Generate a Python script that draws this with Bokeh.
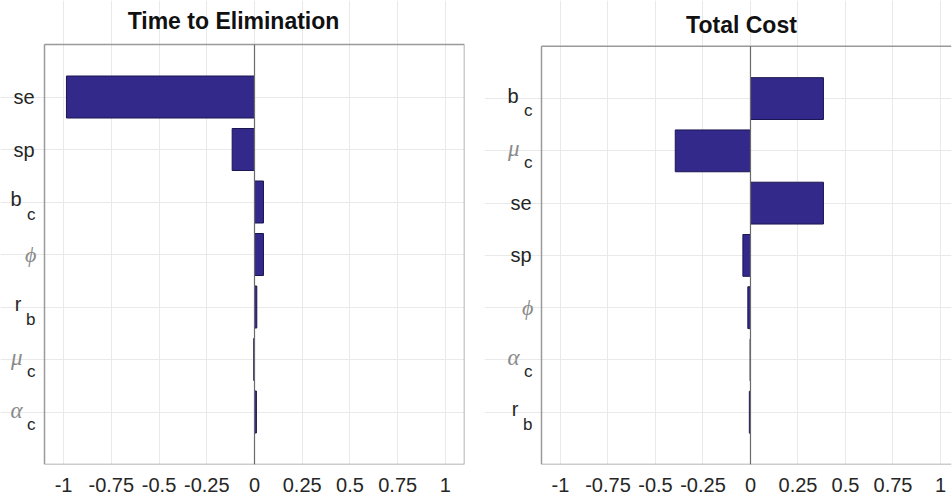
from bokeh.plotting import figure
from bokeh.layouts import row
from bokeh.models import Range1d, FixedTicker, Grid, ColumnDataSource
from bokeh.core.properties import value
from bokeh.embed import file_html
from bokeh.resources import INLINE

# ---------------- data ----------------
left_title = "Time to Elimination"
left_params = ["se", "sp", "b_c", "phi", "r_b", "mu_c", "alpha_c"]
left_values = [-0.985, -0.117, 0.047, 0.047, 0.012, -0.004, 0.010]

right_title = "Total Cost"
right_params = ["b_c", "mu_c", "se", "sp", "phi", "alpha_c", "r_b"]
right_values = [0.384, -0.396, 0.384, -0.040, -0.014, -0.002, -0.006]

x_ticks = [-1, -0.75, -0.5, -0.25, 0, 0.25, 0.5, 0.75, 1]
x_tick_labels = ["-1", "-0.75", "-0.5", "-0.25", "0", "0.25", "0.5", "0.75", "1"]

# main text, subscript, greek?
param_text = {
    "se": ("se", "", False),
    "sp": ("sp", "", False),
    "b_c": ("b", "c", False),
    "phi": ("\u03d5", "", True),
    "r_b": ("r", "b", False),
    "mu_c": ("\u03bc", "c", True),
    "alpha_c": ("\u03b1", "c", True),
}

BAR_FILL = "#33298a"
BAR_LINE = "#1b1650"
TEXT = "#262626"
GREEK = "#8a8a8a"
FRAME = "#9a9a9a"
GRID = "#e9e9e9"
FONT = "Liberation Sans"
HEIGHT = 500


def make_panel(title, params, values, vis_start, vis_end, width, label_px,
               right_px, top_px, bottom_px, title_dx, title_dy,
               draw_right_edge):
    n = len(params)
    pos = [i + 1 for i in range(n)]
    # horizontal: extend the range so that the label column lies inside the frame
    frame_px = width - right_px - label_px
    ppu = frame_px / (vis_end - vis_start)
    ext_start = vis_start - label_px / ppu
    # vertical: extend the range upwards so the title lies inside the frame
    vis_h = HEIGHT - bottom_px - top_px
    ppu_y = vis_h / (n + 1)
    ext_top = -top_px / ppu_y
    p = figure(width=width, height=HEIGHT, output_backend="svg",
               toolbar_location=None, y_axis_location=None,
               x_range=Range1d(ext_start, vis_end),
               y_range=Range1d(n + 1, ext_top),
               min_border_left=0, min_border_right=right_px,
               min_border_top=0, min_border_bottom=bottom_px)
    p.background_fill_color = "white"
    p.border_fill_color = "white"
    p.outline_line_color = None

    ax = p.xaxis[0]
    ax.ticker = FixedTicker(ticks=x_ticks)
    ax.major_label_overrides = dict(zip([float(t) for t in x_ticks], x_tick_labels))
    ax.axis_line_color = None
    ax.major_tick_line_color = None
    ax.minor_tick_line_color = None
    ax.major_tick_out = 0
    ax.major_tick_in = 0
    ax.major_label_standoff = 13
    ax.major_label_text_font = FONT
    ax.major_label_text_font_size = "20px"
    ax.major_label_text_color = TEXT

    p.xgrid.visible = False
    p.ygrid.visible = False
    p.add_layout(Grid(dimension=0, ticker=FixedTicker(ticks=x_ticks),
                      bounds=(0, n + 1),
                      grid_line_color=GRID, grid_line_width=1))
    p.add_layout(Grid(dimension=1, ticker=FixedTicker(ticks=pos),
                      bounds=(vis_start, vis_end),
                      grid_line_color=GRID, grid_line_width=1))

    # frame of the axes box
    x0s = [vis_start, vis_start, vis_start]
    x1s = [vis_end, vis_end, vis_start]
    y0s = [0, n + 1, 0]
    y1s = [0, n + 1, n + 1]
    if draw_right_edge:
        x0s.append(vis_end); x1s.append(vis_end); y0s.append(0); y1s.append(n + 1)
    p.segment(x0=x0s, x1=x1s, y0=y0s, y1=y1s, line_color=FRAME, line_width=1.5)

    p.hbar(y=pos, left=0, right=values, height=0.8,
           fill_color=BAR_FILL, line_color=BAR_LINE, line_width=1)
    # zero line
    p.segment(x0=[0], x1=[0], y0=[0], y1=[n + 1], line_color="#6a6a6a",
              line_width=1.2)

    # title
    p.text(x=[(vis_start + 1.1) / 2], y=[0], text=[title],
           x_offset=title_dx, y_offset=title_dy, text_align="center",
           text_baseline="middle", text_font=value(FONT),
           text_font_size="23px", text_font_style="bold", text_color="#111111")

    groups = {"plain": [], "greek_plain": [], "sub_main": [],
              "sub_main_greek": [], "sub": []}
    for y, key in zip(pos, params):
        main, sub, greek = param_text[key]
        if sub:
            groups["sub_main_greek" if greek else "sub_main"].append((y, main))
            groups["sub"].append((y, sub))
        else:
            groups["greek_plain" if greek else "plain"].append((y, main))

    style = {
        "plain": dict(xo=-10, yo=0, font=FONT, fs="20px", fstyle="normal", col=TEXT),
        "greek_plain": dict(xo=-8, yo=0, font="Liberation Serif", fs="22px",
                            fstyle="italic", col=GREEK),
        "sub_main": dict(xo=-23, yo=-3, font=FONT, fs="20px", fstyle="normal", col=TEXT),
        "sub_main_greek": dict(xo=-22, yo=-2, font="Liberation Serif", fs="23px",
                               fstyle="italic", col=GREEK),
        "sub": dict(xo=-9, yo=12, font=FONT, fs="17px", fstyle="normal", col=TEXT),
    }
    for g, items in groups.items():
        if not items:
            continue
        st = style[g]
        src = ColumnDataSource(dict(x=[vis_start] * len(items),
                                    y=[it[0] for it in items],
                                    t=[it[1] for it in items]))
        p.text(x="x", y="y", text="t", source=src, x_offset=st["xo"],
               y_offset=st["yo"], text_align="right", text_baseline="middle",
               text_font=value(st["font"]), text_font_size=st["fs"],
               text_font_style=st["fstyle"], text_color=st["col"])
    return p


p1 = make_panel(left_title, left_params, left_values, -1.1, 1.1,
                484, 44, 20, 44, 36, -21, -24, True)
p2 = make_panel(right_title, right_params, right_values, -1.1, 1.058,
                468, 57, 1, 46, 34, -9, -21, False)

layout = row(p1, p2)
open("out.html", "w").write(file_html(layout, INLINE))
